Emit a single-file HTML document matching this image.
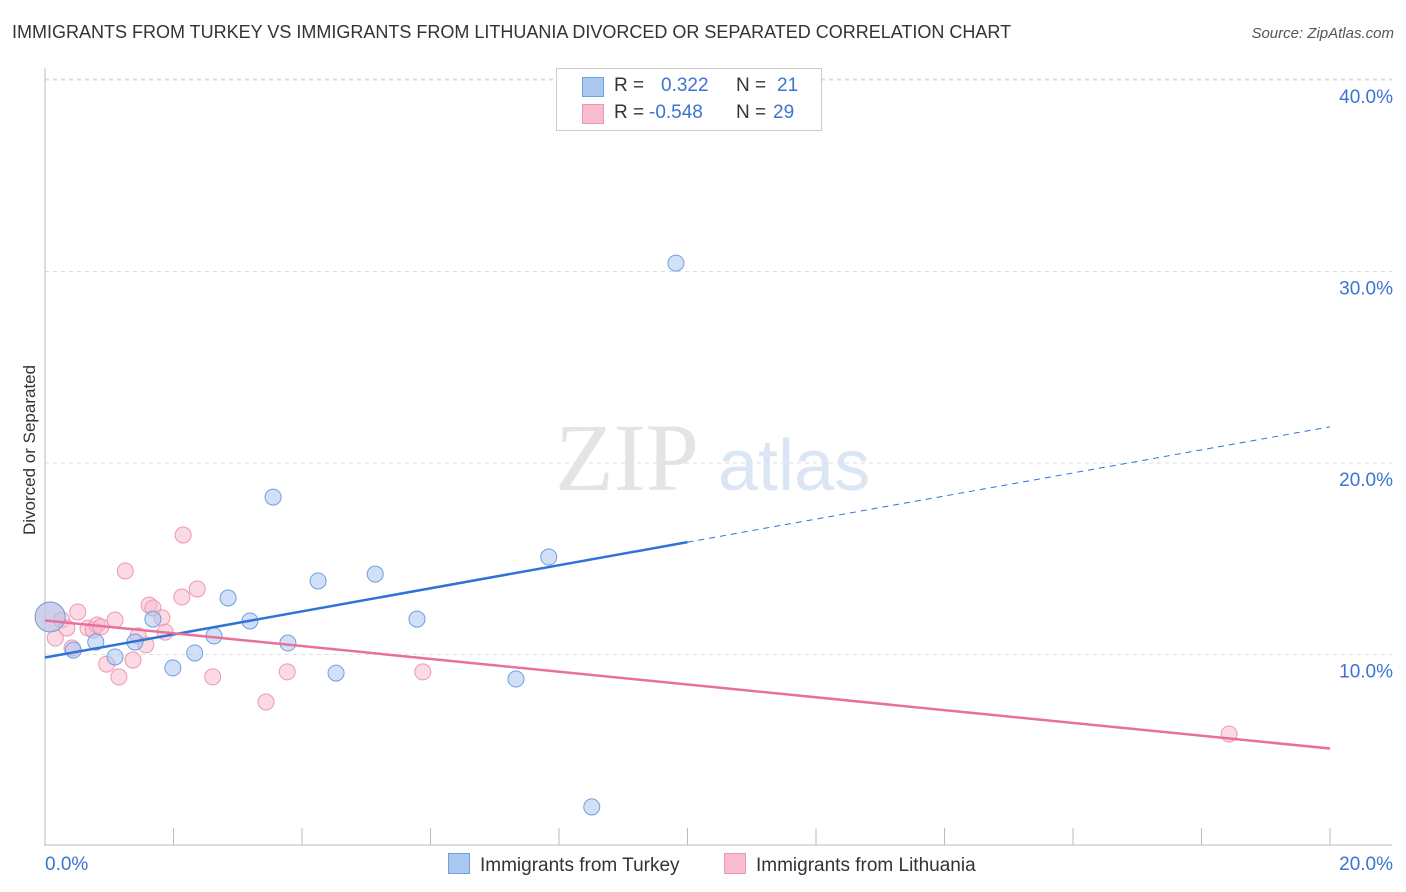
<!DOCTYPE html>
<html><head><meta charset="utf-8"><style>
body{margin:0;background:#fff;font-family:"Liberation Sans",sans-serif;}
#wrap{position:relative;width:1406px;height:892px;overflow:hidden;}
.t{position:absolute;white-space:nowrap;}
</style></head><body>
<div id="wrap">
<div class="t" style="left:12px;top:22px;font-size:18px;color:#333;">IMMIGRANTS FROM TURKEY VS IMMIGRANTS FROM LITHUANIA DIVORCED OR SEPARATED CORRELATION CHART</div>
<div class="t" style="right:12px;top:25px;font-size:15px;color:#555;font-style:italic;">Source: ZipAtlas.com</div>
<div class="t" style="left:-50px;top:445px;width:160px;text-align:center;transform:rotate(-90deg);font-size:17px;color:#333;">Divorced or Separated</div>
<svg id="svg" width="1406" height="892" style="position:absolute;left:0;top:0"></svg>
</div>
<script>
const turkeyX=[0.08,0.44,0.79,1.09,1.40,1.68,1.99,2.33,2.63,2.85,3.19,3.55,3.78,4.25,4.53,5.14,5.79,7.33,7.84,8.51,9.82];
const turkeyY=[11.96,10.23,10.65,9.87,10.65,11.85,9.30,10.08,10.97,12.95,11.75,18.22,10.60,13.84,9.03,14.20,11.85,8.72,15.09,2.04,30.44];
const lithX=[0.08,0.16,0.26,0.34,0.42,0.51,0.67,0.75,0.81,0.87,0.96,1.09,1.15,1.25,1.37,1.45,1.57,1.62,1.68,1.82,1.87,2.13,2.15,2.37,2.61,3.44,3.77,5.88,18.43];
const lithY=[11.96,10.86,11.80,11.38,10.34,12.22,11.38,11.28,11.54,11.44,9.50,11.80,8.83,14.36,9.71,10.97,10.50,12.58,12.43,11.91,11.17,13.00,16.24,13.42,8.83,7.52,9.09,9.09,5.85];
const yTicks=[10,20,30,40];
const yTickLabels=["10.0%","20.0%","30.0%","40.0%"];
const xTickLabels=["0.0%","20.0%"];
const NS="http://www.w3.org/2000/svg";
const svg=document.getElementById('svg');
const X=v=>45+v*64.25, Y=v=>846-v*19.15;
function mk(tag,attrs,parent){const e=document.createElementNS(NS,tag);for(const k in attrs)e.setAttribute(k,attrs[k]);(parent||svg).appendChild(e);return e;}
yTicks.forEach((t,i)=>{
 const g=mk('line',{x1:45,x2:1392,y1:Y(t),y2:Y(t),stroke:'#ddd','stroke-dasharray':'4,4'});
 
 
 const tx=mk('text',{x:1393,y:Y(t)+23,'text-anchor':'end','font-size':19,fill:'#3d73d1','font-family':'Liberation Sans'});
 tx.textContent=yTickLabels[i];
 
 
});
const topGrid=mk('line',{x1:45,x2:1392,y1:79,y2:79,stroke:'#ddd','stroke-dasharray':'4,4'});


const yAxis=mk('line',{x1:45,x2:45,y1:68,y2:846,stroke:'#bbb'});


const xAxis=mk('line',{x1:45,x2:1392,y1:845,y2:845,stroke:'#bbb'});


for(let i=0;i<=10;i++){const l=mk('line',{x1:X(i*2),x2:X(i*2),y1:828,y2:845,stroke:'#bbb'});

}
[[0,45,'start'],[20,1393,'end']].forEach((a,i)=>{const tx=mk('text',{x:a[1],y:870,'text-anchor':a[2],'font-size':19,fill:'#3d73d1','font-family':'Liberation Sans'});tx.textContent=xTickLabels[i];

});
const wm=mk('text',{x:555,y:490,'font-size':96,fill:'#e4e4e4','font-family':'Liberation Serif'});wm.textContent='ZIP';


const wm2=mk('text',{x:718,y:490,'font-size':72,fill:'#dbe6f5','font-family':'Liberation Sans'});wm2.textContent='atlas';


function pts(xs,ys,fill,stroke,name){xs.forEach((x,i)=>{const c=mk('circle',{cx:X(x),cy:Y(ys[i]),r:i==0?15:8,fill:fill,'fill-opacity':0.55,stroke:stroke,'stroke-width':1});

});}
pts(lithX,lithY,'#f7bccd','#ec97b3','lithuania-point');
pts(turkeyX,turkeyY,'#aac8f0','#6f9fdf','turkey-point');
function reg(xs,ys){const n=xs.length;let mx=0,my=0;xs.forEach((x,i)=>{mx+=x;my+=ys[i]});mx/=n;my/=n;let sxy=0,sxx=0;xs.forEach((x,i)=>{sxy+=(x-mx)*(ys[i]-my);sxx+=(x-mx)**2});const b=sxy/sxx;return [my-b*mx,b];}
const [ta,tb]=reg(turkeyX,turkeyY);
const tl=mk('line',{x1:X(0),y1:Y(ta),x2:X(10),y2:Y(ta+tb*10),stroke:'#2f73d8','stroke-width':2.5});


const td=mk('line',{x1:X(10),y1:Y(ta+tb*10),x2:X(20),y2:Y(ta+tb*20),stroke:'#2f73d8','stroke-width':1,'stroke-dasharray':'6,5'});


const [la,lb]=reg(lithX,lithY);
const ll=mk('line',{x1:X(0),y1:Y(la),x2:X(20),y2:Y(la+lb*20),stroke:'#e8709b','stroke-width':2.5});


</script>
<div class="t" style="left:556px;top:68px;width:264px;height:61px;border:1px solid #ccc;background:#fff;font-size:19px;color:#333;">
 <div style="position:absolute;left:25px;top:8px;width:20px;height:18px;background:#aac8f0;border:1px solid #6f9fdf;"></div>
 <div style="position:absolute;left:57px;top:6px;">R =</div>
 <div style="position:absolute;left:104px;top:6px;color:#3d73d1">0.322</div>
 <div style="position:absolute;left:179px;top:6px;">N =</div>
 <div style="position:absolute;left:220px;top:6px;color:#3d73d1">21</div>
 <div style="position:absolute;left:25px;top:35px;width:20px;height:18px;background:#f7bccd;border:1px solid #ec97b3;"></div>
 <div style="position:absolute;left:57px;top:33px;">R =</div>
 <div style="position:absolute;left:92px;top:33px;color:#3d73d1">-0.548</div>
 <div style="position:absolute;left:179px;top:33px;">N =</div>
 <div style="position:absolute;left:216px;top:33px;color:#3d73d1">29</div>
</div>
<div class="t" style="left:448px;top:853px;font-size:19px;color:#333;"><span style="display:inline-block;width:20px;height:19px;background:#aac8f0;border:1px solid #6f9fdf;vertical-align:-3px;margin-right:10px;"></span>Immigrants from Turkey</div>
<div class="t" style="left:724px;top:853px;font-size:19px;color:#333;"><span style="display:inline-block;width:20px;height:19px;background:#f7bccd;border:1px solid #ec97b3;vertical-align:-3px;margin-right:10px;"></span>Immigrants from Lithuania</div>
</body></html>
